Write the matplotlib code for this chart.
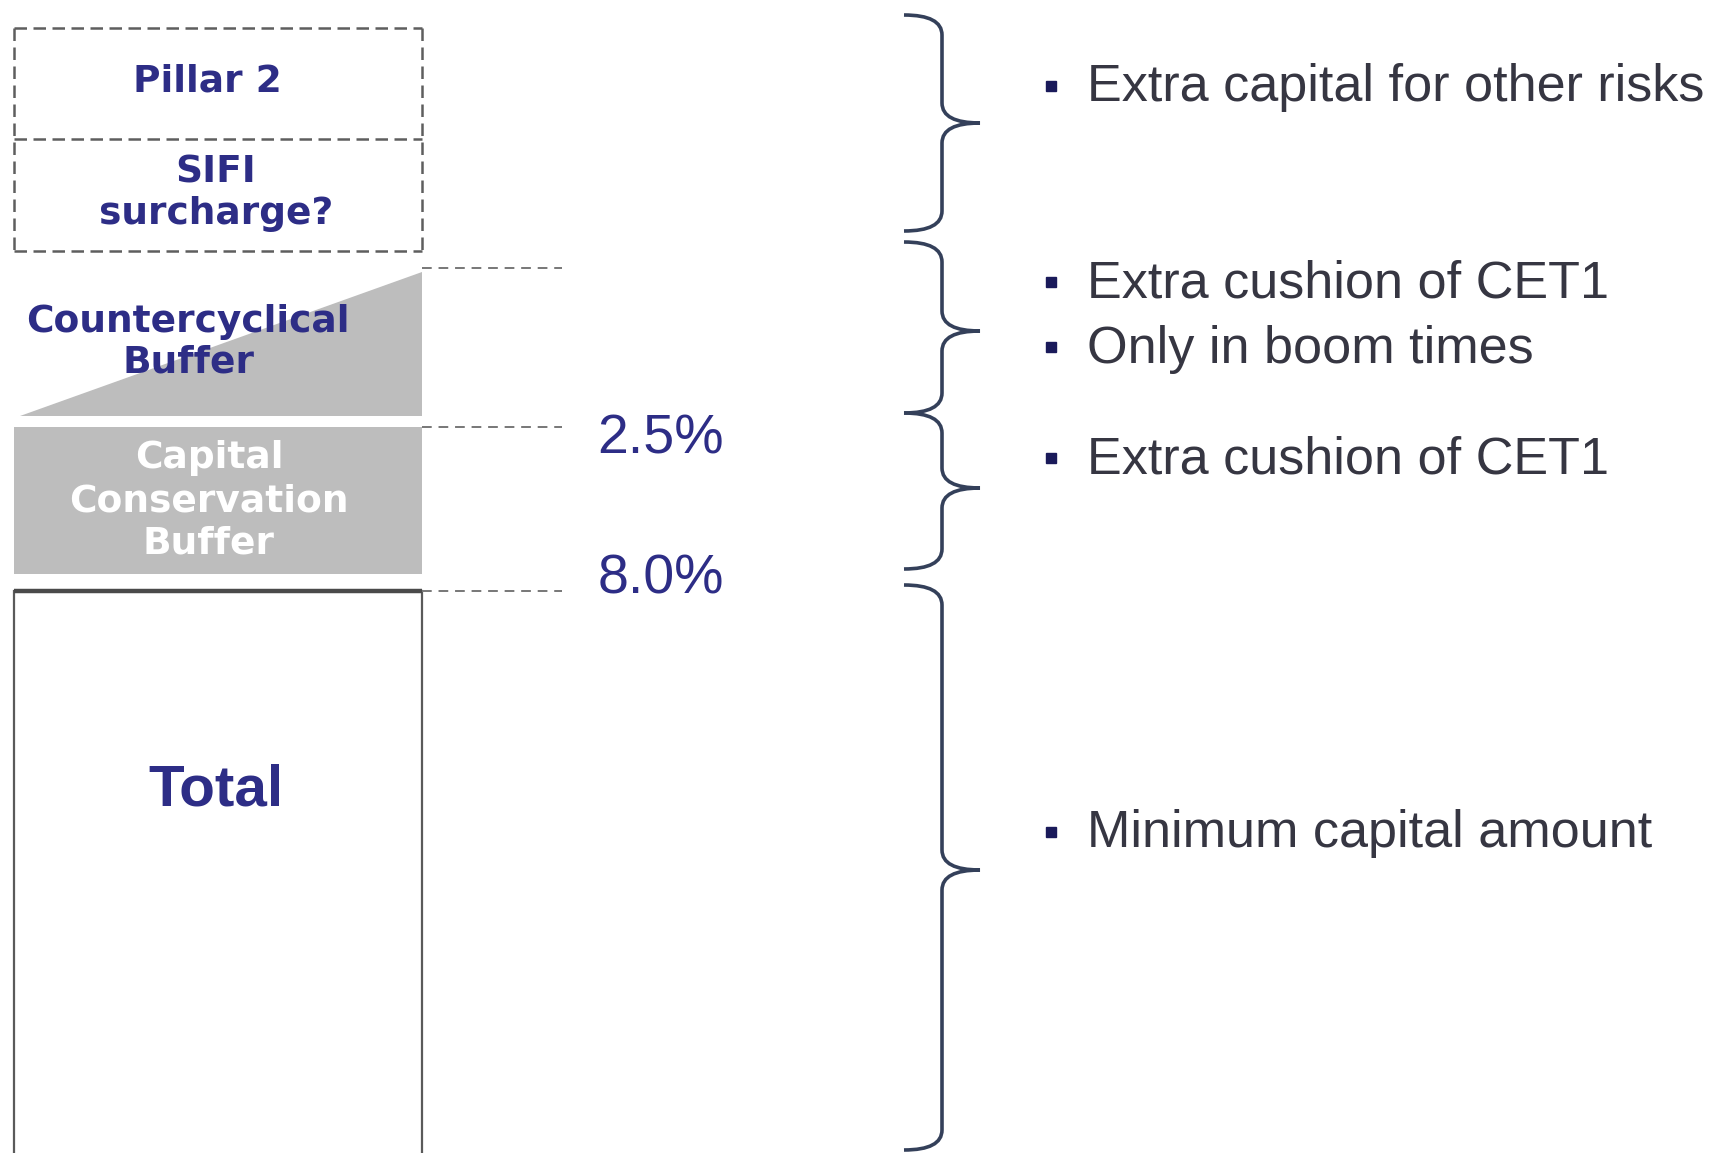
import matplotlib
matplotlib.use("Agg")
import matplotlib.pyplot as plt
from matplotlib.patches import Rectangle, Polygon, PathPatch
from matplotlib.path import Path

# Layers of the capital stack, top to bottom
layer_labels = ["Pillar 2", "SIFI\nsurcharge?", "Countercyclical\nBuffer",
                "Capital\nConservation\nBuffer", "Total"]
# Threshold values written beside the stack
threshold_labels = ["2.5%", "8.0%"]
# Bullet notes, one group per brace
bullet_groups = [["Extra capital for other risks"],
                 ["Extra cushion of CET1", "Only in boom times"],
                 ["Extra cushion of CET1"],
                 ["Minimum capital amount"]]

NAVY = "#2d2d86"
GREY = "#bdbdbd"
EDGE = "#5a5a5a"
TEXT = "#363642"
BRACE = "#34405a"

W, H = 1725, 1153
fig = plt.figure(figsize=(W / 100, H / 100), dpi=100)
ax = fig.add_axes([0, 0, 1, 1])
ax.set_xlim(0, W)
ax.set_ylim(H, 0)
ax.axis("off")
plt.rcParams["font.family"] = ["Liberation Sans", "DejaVu Sans"]

x0, x1 = 14, 422

# dashed box for Pillar 2 / SIFI
box_style = dict(color="#5e5e5e", lw=1.8, ls=(0, (5, 2.6)))
for y in (28, 139, 251):
    ax.plot([x0, x1], [y, y], **box_style)
for x in (x0, x1):
    ax.plot([x, x], [28, 251], **box_style)

# countercyclical wedge
ax.add_patch(Polygon([(20, 416), (x1, 272), (x1, 416)], closed=True,
                     facecolor=GREY, edgecolor="none"))
# conservation buffer
ax.add_patch(Rectangle((x0, 427), x1 - x0, 147, facecolor=GREY,
                       edgecolor="none"))
# total
ax.add_patch(Rectangle((x0, 591), x1 - x0, 600, facecolor="white",
                       edgecolor=EDGE, lw=1.6))
ax.plot([x0, x1], [591, 591], color="#4a4a4a", lw=3.2, solid_capstyle="butt")

# guide lines to thresholds
guide = dict(color="#777777", lw=1.4, ls=(0, (5, 3.5)))
for y in (268, 427, 591):
    ax.plot([x1, 562], [y, y], **guide)

# layer labels
label_pos = [(207, 82), (216, 193), (188, 342), (209, 501), (216, 791)]
label_color = [NAVY, NAVY, NAVY, "white", NAVY]
label_size = [27, 27, 27, 27, 42]
label_font = ["DejaVu Sans", "DejaVu Sans", "DejaVu Sans", "DejaVu Sans",
              "Liberation Sans"]
label_spacing = [1.2, 1.18, 1.15, 1.25, 1.2]
for (lx, ly), txt, c, s, f, ls in zip(label_pos, layer_labels, label_color,
                                      label_size, label_font, label_spacing):
    ax.text(lx, ly, txt, ha="center", va="center", color=c, fontsize=s,
            fontweight="bold", linespacing=ls, family=f)

for y, txt in zip((440, 579), threshold_labels):
    ax.text(661, y, txt, ha="center", va="center", color=NAVY, fontsize=40)


def brace(ax, top, tip, bot, xe=904, xs=942, xt=980, r=20):
    verts = [(xe, top), (xs, top), (xs, top + r),
             (xs, tip - r), (xs, tip), (xt, tip),
             (xs, tip), (xs, tip + r),
             (xs, bot - r), (xs, bot), (xe, bot)]
    codes = [Path.MOVETO, Path.CURVE3, Path.CURVE3,
             Path.LINETO, Path.CURVE3, Path.CURVE3,
             Path.CURVE3, Path.CURVE3,
             Path.LINETO, Path.CURVE3, Path.CURVE3]
    ax.add_patch(PathPatch(Path(verts, codes), facecolor="none",
                           edgecolor=BRACE, lw=2.6))


brace_spans = [(15, 123, 231), (242, 331, 413), (413, 488, 569),
               (585, 870, 1150)]
for span in brace_spans:
    brace(ax, *span)

bullet_y = [[88], [284, 349], [460], [834]]
for ys, group in zip(bullet_y, bullet_groups):
    for y, txt in zip(ys, group):
        ax.plot(1051, y - 2, marker="s", ms=7.5, color="#1a1a5a")
        ax.text(1087, y, txt, ha="left", va="center", color=TEXT,
                fontsize=37.5)

fig.savefig("out.png", dpi=100, facecolor="white")
